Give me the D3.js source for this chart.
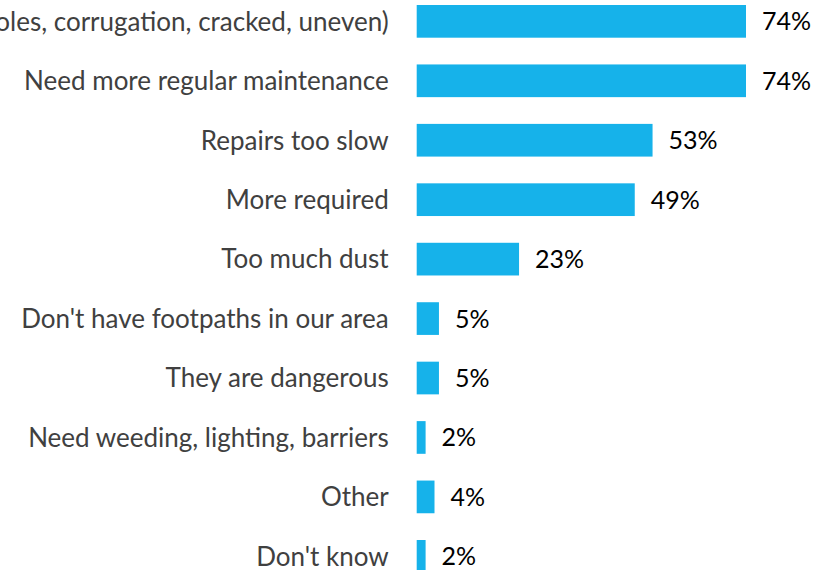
<!DOCTYPE html>
<html>
<head>
<meta charset="utf-8">
<script src="https://cdn.jsdelivr.net/npm/d3@7"></script>
<style>
  body { margin: 0; background: #fff; }
  svg { display: block; }
  .cat-label { font-family: Lato, sans-serif; font-size: 26px; fill: #404040; }
  .val-label { font-family: Lato, sans-serif; font-size: 25px; fill: #000; }
</style>
</head>
<body>
<svg id="chart"></svg>
<script>
var categories = [
  "Poor surface (potholes, corrugation, cracked, uneven)",
  "Need more regular maintenance",
  "Repairs too slow",
  "More required",
  "Too much dust",
  "Don't have footpaths in our area",
  "They are dangerous",
  "Need weeding, lighting, barriers",
  "Other",
  "Don't know"
];
var values = [74, 74, 53, 49, 23, 5, 5, 2, 4, 2];

document.addEventListener("DOMContentLoaded", function() {
  drawChart();
});

function drawChart() {
  var svgWidth = 833, svgHeight = 570;
  var x0 = 416.7;

  var svg = d3.select("#chart")
    .attr("width", svgWidth)
    .attr("height", svgHeight);

  var data = categories.map(function(c, i) { return { cat: c, val: values[i] }; });

  var x = d3.scaleLinear()
    .domain([0, 100])
    .range([0, 445]);

  var y = d3.scaleBand()
    .domain(categories)
    .range([5, 572.7])
    .paddingInner(0.45)
    .paddingOuter(0);

  var chart = svg.append("g")
    .attr("transform", "translate(" + x0 + ",0)");

  // bars
  chart.selectAll("rect")
    .data(data)
    .enter()
    .append("rect")
    .attr("x", 0)
    .attr("y", function(d) { return y(d.cat); })
    .attr("width", function(d) { return x(d.val); })
    .attr("height", y.bandwidth())
    .attr("fill", "#16b2ea");

  // value labels
  chart.selectAll(".val-label")
    .data(data)
    .enter()
    .append("text")
    .attr("class", "val-label")
    .attr("x", function(d) { return x(d.val) + 16; })
    .attr("y", function(d) { return y(d.cat) + y.bandwidth() / 2; })
    .attr("dy", "0.36em")
    .text(function(d) { return d.val + "%"; });

  // category labels
  chart.selectAll(".cat-label")
    .data(data)
    .enter()
    .append("text")
    .attr("class", "cat-label")
    .attr("x", -28)
    .attr("y", function(d) { return y(d.cat) + y.bandwidth() / 2; })
    .attr("dy", "0.36em")
    .attr("text-anchor", "end")
    .text(function(d) { return d.cat; });
}
</script>
</body>
</html>
